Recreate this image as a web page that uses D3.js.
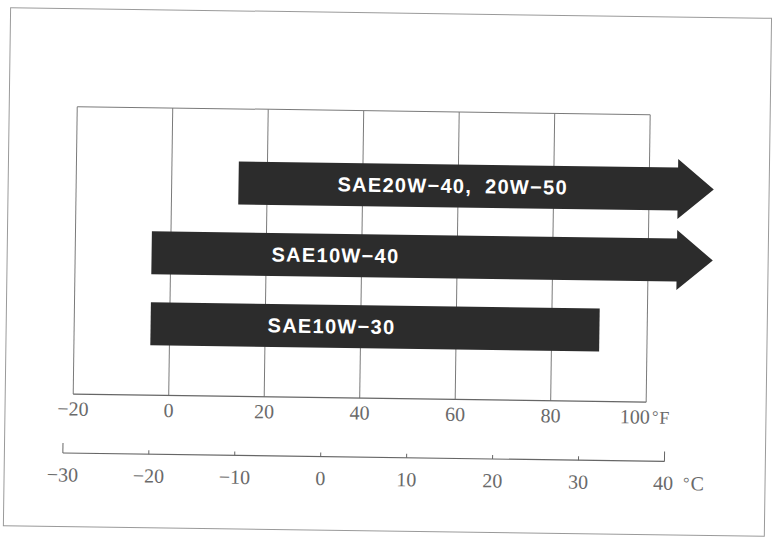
<!DOCTYPE html>
<html>
<head>
<meta charset="utf-8">
<script src="https://cdn.jsdelivr.net/npm/d3@7"></script>
<style>
  html, body { margin: 0; padding: 0; background: #fff; }
  svg { display: block; }
</style>
</head>
<body>
<svg id="chart" width="775" height="538"></svg>
<script>
// ---- data ----
const fahrenheitTicks = [-20, 0, 20, 40, 60, 80, 100];
const celsiusTicks = [-30, -20, -10, 0, 10, 20, 30, 40];
const oilGrades = ["SAE20W\u221240, 20W\u221250", "SAE10W\u221240", "SAE10W\u221230"];
const rangeFromF = [14, -4, -4];      // lower usable temperature, °F
const rangeToF = [106, 106, 90];      // upper usable temperature, °F
const openEnded = [true, true, false]; // arrow = continues beyond scale

// ---- layout ----
const W = 775, H = 538;
const plotTop = 111, plotBottom = 398.5, celsiusY = 457.5;
const svg = d3.select("#chart");
const root = svg.append("g").attr("transform", `rotate(0.8 ${W / 2} ${H / 2})`);

const x = d3.scaleLinear().domain([-20, 100]).range([75, 648]);
const xC = c => x(c * 1.8 + 32);
const y = d3.scalePoint().domain(oilGrades).range([185, 327]);

const gridColor = "#7a7a7a";
const textColor = "#6a6a6a";

// outer frame
root.append("rect").attr("x", 7).attr("y", 13).attr("width", 761).attr("height", 518)
  .attr("fill", "none").attr("stroke", "#9a9a9a").attr("stroke-width", 1);

// grid lines
root.append("g").selectAll("line").data(fahrenheitTicks).join("line")
  .attr("x1", d => x(d)).attr("x2", d => x(d))
  .attr("y1", plotTop).attr("y2", plotBottom)
  .attr("stroke", gridColor).attr("stroke-width", 1);
// plot box top & bottom
root.append("line").attr("x1", x(-20)).attr("x2", x(100)).attr("y1", plotTop).attr("y2", plotTop)
  .attr("stroke", gridColor).attr("stroke-width", 1);
root.append("line").attr("x1", x(-20)).attr("x2", x(100)).attr("y1", plotBottom).attr("y2", plotBottom)
  .attr("stroke", "#666").attr("stroke-width", 1.2);

// bars / arrows
const barH = 43, headHalf = 30, headLen = 36;
const barColor = "#2c2c2c";
const bars = oilGrades.map((g, i) => ({ g, from: rangeFromF[i], to: rangeToF[i], open: openEnded[i] }));
root.append("g").selectAll("path").data(bars).join("path")
  .attr("fill", barColor)
  .attr("d", d => {
    const x0 = x(d.from), x1 = x(d.to), cy = y(d.g), t = cy - barH / 2, b = cy + barH / 2;
    const p = d3.path();
    p.moveTo(x0, t);
    p.lineTo(x1, t);
    if (d.open) {
      p.lineTo(x1, cy - headHalf);
      p.lineTo(x1 + headLen, cy);
      p.lineTo(x1, cy + headHalf);
    }
    p.lineTo(x1, b);
    p.lineTo(x0, b);
    p.closePath();
    return p.toString();
  });

// bar labels
const labelOffset = [99, 120, 117];
root.append("g").selectAll("text").data(bars).join("text")
  .attr("x", (d, i) => x(d.from) + labelOffset[i])
  .attr("y", d => y(d.g) + 7)
  .attr("fill", "#fff")
  .attr("font-family", "'Liberation Sans', Arial, sans-serif")
  .attr("font-weight", "bold")
  .attr("font-size", 20)
  .attr("letter-spacing", 1.3)
  .attr("word-spacing", 6)
  .text(d => d.g);

// Fahrenheit labels
const fLabels = root.append("g")
  .attr("font-family", "'Liberation Serif', 'Times New Roman', serif")
  .attr("font-size", 20).attr("fill", textColor);
fLabels.selectAll("text").data(fahrenheitTicks).join("text")
  .attr("x", d => x(d)).attr("y", 420)
  .attr("text-anchor", d => d === 100 ? "start" : "middle")
  .attr("dx", d => d === 100 ? -26 : 0)
  .each(function (d) {
    const t = d3.select(this);
    if (d === 100) {
      t.append("tspan").text("100");
      t.append("tspan").attr("dx", 2).attr("font-size", 16).attr("dy", -2).text("°");
      t.append("tspan").attr("dx", 1).attr("dy", 2).attr("font-size", 18).text("F");
    } else {
      t.text(d < 0 ? "\u2212" + Math.abs(d) : d);
    }
  });

// Celsius axis
root.append("line").attr("x1", xC(-30)).attr("x2", xC(40)).attr("y1", celsiusY).attr("y2", celsiusY)
  .attr("stroke", "#666").attr("stroke-width", 1.2);
root.append("g").selectAll("line").data(celsiusTicks).join("line")
  .attr("x1", d => xC(d)).attr("x2", d => xC(d))
  .attr("y1", celsiusY)
  .attr("y2", d => (d === -30 || d === 40) ? celsiusY - 10 : celsiusY - 4)
  .attr("stroke", "#666").attr("stroke-width", 1);

const cLabels = root.append("g")
  .attr("font-family", "'Liberation Serif', 'Times New Roman', serif")
  .attr("font-size", 20).attr("fill", textColor);
cLabels.selectAll("text").data(celsiusTicks).join("text")
  .attr("x", d => xC(d)).attr("y", 486)
  .attr("text-anchor", d => d === 40 ? "start" : "middle")
  .attr("dx", d => d === 40 ? -11 : 0)
  .each(function (d) {
    const t = d3.select(this);
    if (d === 40) {
      t.append("tspan").text("40");
      t.append("tspan").attr("dx", 10).attr("font-size", 16).attr("dy", -2).text("°");
      t.append("tspan").attr("dx", 1).attr("dy", 2).text("C");
    } else {
      t.text(d < 0 ? "\u2212" + Math.abs(d) : d);
    }
  });
</script>
</body>
</html>
